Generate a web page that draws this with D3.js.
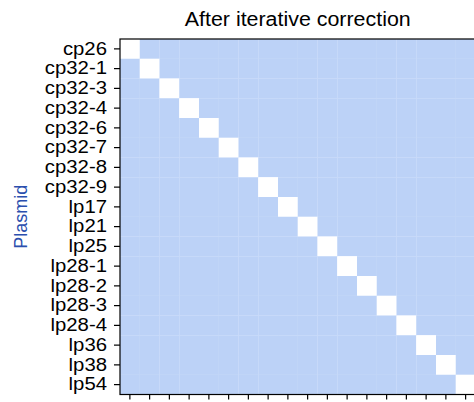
<!DOCTYPE html>
<html>
<head>
<meta charset="utf-8">
<script src="https://cdn.jsdelivr.net/npm/d3@7"></script>
<style>
  html, body { margin: 0; padding: 0; background: #fff; overflow: hidden; }
  svg { display: block; font-family: "Liberation Sans", Arial, sans-serif; }
</style>
</head>
<body>
<svg id="chart" width="474" height="402"></svg>
<script>
// Plasmids, in row/column order
const plasmids = ["cp26", "cp32-1", "cp32-3", "cp32-4", "cp32-6", "cp32-7", "cp32-8", "cp32-9",
  "lp17", "lp21", "lp25", "lp28-1", "lp28-2", "lp28-3", "lp28-4", "lp36", "lp38", "lp54"];

// Contact matrix after iterative correction (self contacts masked as null)
const N = null;
const contacts = [
  [N,1,1,1,1,1,1,1,1,1,1,1,1,1,1,1,1,1],
  [1,N,1,1,1,1,1,1,1,1,1,1,1,1,1,1,1,1],
  [1,1,N,1,1,1,1,1,1,1,1,1,1,1,1,1,1,1],
  [1,1,1,N,1,1,1,1,1,1,1,1,1,1,1,1,1,1],
  [1,1,1,1,N,1,1,1,1,1,1,1,1,1,1,1,1,1],
  [1,1,1,1,1,N,1,1,1,1,1,1,1,1,1,1,1,1],
  [1,1,1,1,1,1,N,1,1,1,1,1,1,1,1,1,1,1],
  [1,1,1,1,1,1,1,N,1,1,1,1,1,1,1,1,1,1],
  [1,1,1,1,1,1,1,1,N,1,1,1,1,1,1,1,1,1],
  [1,1,1,1,1,1,1,1,1,N,1,1,1,1,1,1,1,1],
  [1,1,1,1,1,1,1,1,1,1,N,1,1,1,1,1,1,1],
  [1,1,1,1,1,1,1,1,1,1,1,N,1,1,1,1,1,1],
  [1,1,1,1,1,1,1,1,1,1,1,1,N,1,1,1,1,1],
  [1,1,1,1,1,1,1,1,1,1,1,1,1,N,1,1,1,1],
  [1,1,1,1,1,1,1,1,1,1,1,1,1,1,N,1,1,1],
  [1,1,1,1,1,1,1,1,1,1,1,1,1,1,1,N,1,1],
  [1,1,1,1,1,1,1,1,1,1,1,1,1,1,1,1,N,1],
  [1,1,1,1,1,1,1,1,1,1,1,1,1,1,1,1,1,N]
];

const titleText = "After iterative correction";
const yLabelText = "Plasmid";

const svg = d3.select("#chart");
const plotLeft = 120, plotTop = 39, plotSize = 355.5;

// widen glyphs horizontally by a factor, keeping their height
function widen(sel, factor) {
  sel.each(function () {
    const w = this.getComputedTextLength();
    d3.select(this).attr("textLength", w * factor).attr("lengthAdjust", "spacingAndGlyphs");
  });
}

const x = d3.scaleBand().domain(plasmids).range([plotLeft, plotLeft + plotSize]);
const y = d3.scaleBand().domain(plasmids).range([plotTop, plotTop + plotSize]);
const color = d3.scaleLinear().domain([0, 1]).range(["#ffffff", "#bcd2f7"]);

const cells = [];
contacts.forEach((row, i) => row.forEach((v, j) => cells.push({ r: plasmids[i], c: plasmids[j], v })));

svg.append("g").selectAll("rect")
  .data(cells)
  .join("rect")
  .attr("x", d => x(d.c))
  .attr("y", d => y(d.r))
  .attr("width", x.bandwidth() + 0.15)
  .attr("height", y.bandwidth() + 0.15)
  .attr("fill", d => d.v == null ? "#ffffff" : color(d.v));

// frame
svg.append("rect")
  .attr("x", plotLeft).attr("y", plotTop)
  .attr("width", plotSize).attr("height", plotSize)
  .attr("fill", "none").attr("stroke", "#000").attr("stroke-width", 1.2);

// left axis with plasmid names
const yAxis = svg.append("g")
  .attr("transform", `translate(${plotLeft},0)`)
  .call(d3.axisLeft(y).tickSize(6).tickPadding(7));
yAxis.select(".domain").remove();
yAxis.selectAll("text")
  .attr("font-size", 18)
  .attr("fill", "#000")
  .attr("font-family", "Liberation Sans, Arial, sans-serif")
  .call(widen, 1.13);
yAxis.selectAll("line").attr("stroke-width", 1.2);

// bottom axis, ticks only
const xAxis = svg.append("g")
  .attr("transform", `translate(0,${plotTop + plotSize})`)
  .call(d3.axisBottom(x).tickSize(5).tickFormat(""));
xAxis.select(".domain").remove();
xAxis.selectAll("line").attr("stroke-width", 1.2);

svg.append("text")
  .attr("x", plotLeft + plotSize / 2)
  .attr("y", 26)
  .attr("text-anchor", "middle")
  .attr("font-size", 20)
  .attr("fill", "#000")
  .text(titleText)
  .call(widen, 1.07);

svg.append("text")
  .attr("transform", `translate(27,${plotTop + plotSize / 2}) rotate(-90)`)
  .attr("text-anchor", "middle")
  .attr("font-size", 18)
  .attr("fill", "#2b4fae")
  .text(yLabelText);
</script>
</body>
</html>
